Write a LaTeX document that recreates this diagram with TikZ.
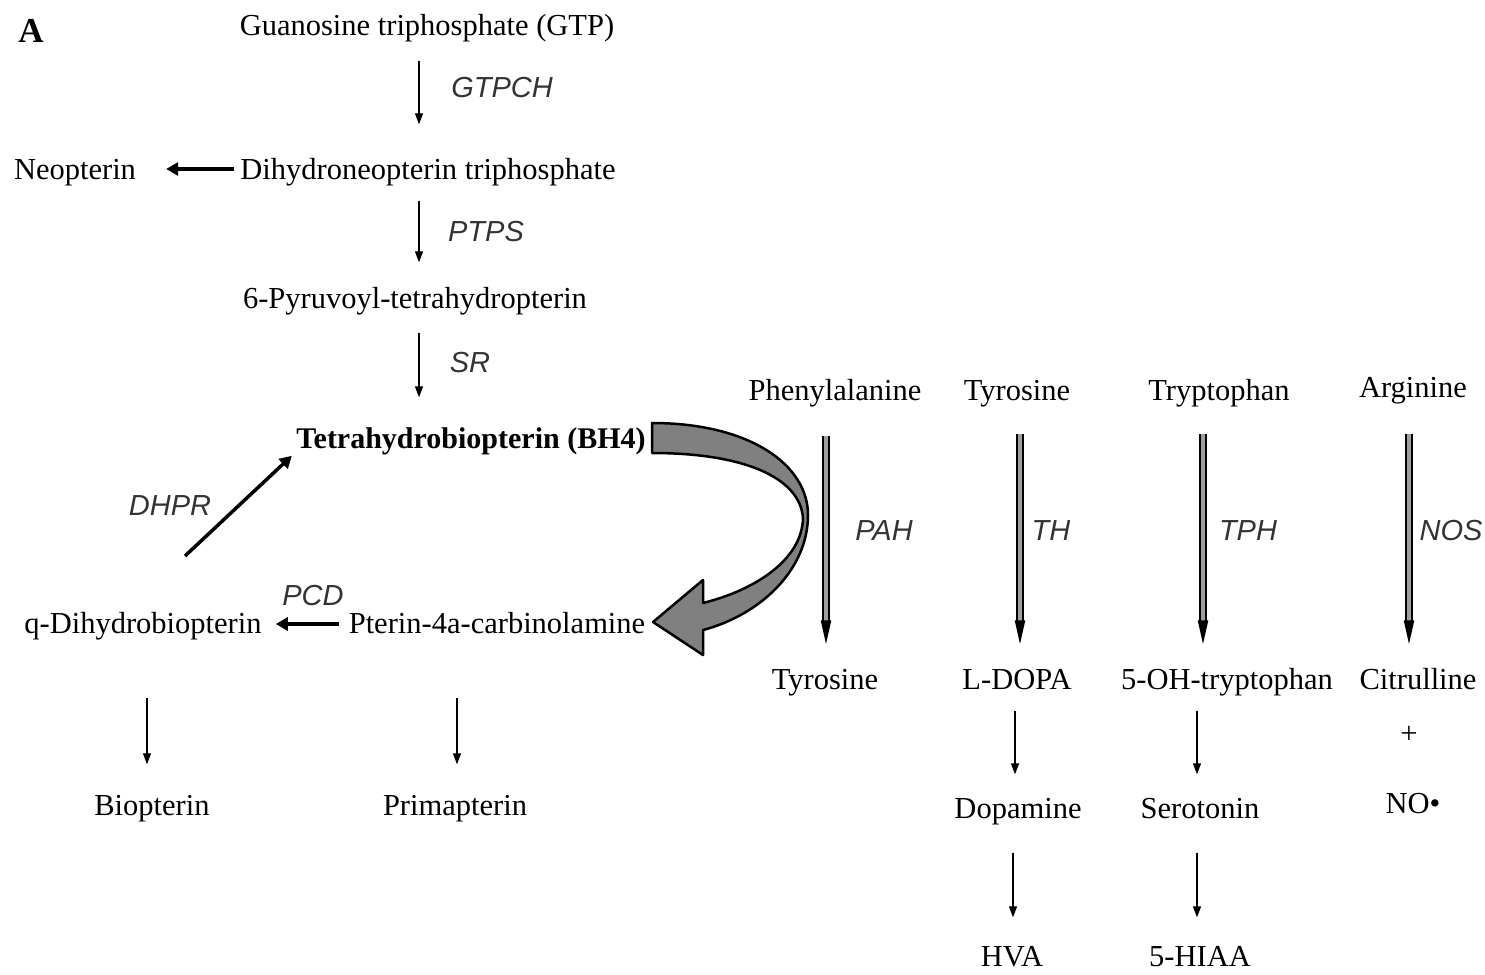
\documentclass[tikz,border=0pt]{standalone}
\usepackage{fontspec}
\setmainfont{Liberation Serif}
\setsansfont{Liberation Sans}
\usetikzlibrary{arrows.meta}

\begin{document}
\begin{tikzpicture}[x=1pt, y=-1pt,
  met/.style={inner sep=0pt, text height=24pt, text depth=3pt, font=\fontsize{30.5}{35}\selectfont},
  enz/.style={inner sep=0pt, text=black!80, font=\sffamily\itshape\fontsize{29}{34}\selectfont},
  arr/.style={line width=1.3pt, -{Triangle[length=11pt, width=8pt]}},
  tarr/.style={line width=3.5pt, -{Triangle[length=12pt, width=13pt]}},
  garr/.style={line width=2.2pt, double=gray!75, double distance=3.2pt, -{Triangle[length=24pt, width=10pt]}},
  bigarr/.style={draw=black, line width=2.5pt, fill=gray, line join=round}]
  \useasboundingbox (0,0) rectangle (1485,974);

  % Biosintesis BH4
  \node[font=\bfseries\fontsize{35}{40}\selectfont] (lblA) at (31,31) {A};
  \node[met] (gtp) at (427,25) {Guanosine triphosphate (GTP)};
  \node[met] (dhnp) at (428,169) {Dihydroneopterin triphosphate};
  \node[met] (neo) at (75,169) {Neopterin};
  \node[met] (ptp) at (415,298) {6-Pyruvoyl-tetrahydropterin};
  \node[met, font=\bfseries\fontsize{30}{35}\selectfont] (bh4) at (471,438) {Tetrahydrobiopterin (BH4)};
  \node[met] (qdhb) at (143,623) {q-Dihydrobiopterin};
  \node[met] (pca) at (497,623) {Pterin-4a-carbinolamine};
  \node[met] (biop) at (152,805) {Biopterin};
  \node[met] (prim) at (455,805) {Primapterin};

  % Enzimas
  \node[enz] (gtpch) at (502,88) {GTPCH};
  \node[enz] (ptps) at (486,232) {PTPS};
  \node[enz] (sr) at (470,363) {SR};
  \node[enz] (dhpr) at (170,506) {DHPR};
  \node[enz] (pcd) at (313,596) {PCD};

  % Flechas
  \draw[arr, shorten <=22pt, shorten >=31pt] ([xshift=-8]gtp.south) -- ([xshift=-9]dhnp.north);
  \draw[arr, shorten <=18pt, shorten >=22pt] ([xshift=-9]dhnp.south) -- ([xshift=4]ptp.north);
  \draw[arr, shorten <=21pt, shorten >=27pt] ([xshift=4]ptp.south) -- ([xshift=-52]bh4.north);
  \draw[tarr, shorten <=6pt, shorten >=30pt] (dhnp.west) -- (neo.east);
  \draw[tarr, shorten <=10pt, shorten >=14pt] ([yshift=-1]pca.west) -- ([yshift=-1]qdhb.east);
  \coordinate (dh0) at (185,556);
  \draw[tarr, shorten >=6pt] (dh0) -- (bh4.south west);
  \draw[arr, shorten <=61pt, shorten >=27pt] ([xshift=4]qdhb.south) -- ([xshift=-5]biop.north);
  \draw[arr, shorten <=61pt, shorten >=27pt] ([xshift=-40]pca.south) -- ([xshift=2]prim.north);

  % Cofactor
  \draw[bigarr] (652,423) .. controls (750,423) and (808,465) .. (808,515)
    .. controls (808,570) and (760,615) .. (703,630)
    -- (703,655) -- (653,622) -- (703,580) -- (703,603)
    .. controls (755,590) and (802,560) .. (803,518)
    .. controls (800,478) and (745,453) .. (652,453) -- cycle;

  % Aminoacidos
  \node[met] (phe) at (835,390) {Phenylalanine};
  \node[met] (tyr1) at (1017,390) {Tyrosine};
  \node[met] (trp) at (1219,390) {Tryptophan};
  \node[met] (arg) at (1413,387) {Arginine};
  \node[met] (tyr2) at (825,679) {Tyrosine};
  \node[met] (ldopa) at (1017,679) {L-DOPA};
  \node[met] (ohtrp) at (1227,679) {5-OH-tryptophan};
  \node[met] (cit) at (1418,679) {Citrulline};
  \node[met] (plus) at (1409,733) {+};
  \node[met] (no) at (1413,803) {NO•};
  \node[met] (dopa) at (1018,808) {Dopamine};
  \node[met] (sero) at (1200,808) {Serotonin};
  \node[met] (hva) at (1012,956) {HVA};
  \node[met] (hiaa) at (1200,956) {5-HIAA};

  \node[enz] (pah) at (884,531) {PAH};
  \node[enz] (th) at (1051,531) {TH};
  \node[enz] (tph) at (1248,531) {TPH};
  \node[enz] (nos) at (1451,531) {NOS};

  \draw[garr, shorten <=32pt, shorten >=21pt] ([xshift=-9]phe.south) -- ([xshift=1]tyr2.north);
  \draw[garr, shorten <=30pt, shorten >=21pt] ([xshift=3]tyr1.south) -- ([xshift=3]ldopa.north);
  \draw[garr, shorten <=30pt, shorten >=21pt] ([xshift=-16]trp.south) -- ([xshift=-24]ohtrp.north);
  \draw[garr, shorten <=33pt, shorten >=21pt] ([xshift=-4]arg.south) -- ([xshift=-9]cit.north);

  \draw[arr, shorten <=18pt, shorten >=20pt] ([xshift=-2]ldopa.south) -- ([xshift=-3]dopa.north);
  \draw[arr, shorten <=31pt, shorten >=25pt] ([xshift=-5]dopa.south) -- ([xshift=1]hva.north);
  \draw[arr, shorten <=18pt, shorten >=20pt] ([xshift=-30]ohtrp.south) -- ([xshift=-3]sero.north);
  \draw[arr, shorten <=31pt, shorten >=25pt] ([xshift=-3]sero.south) -- ([xshift=-3]hiaa.north);
\end{tikzpicture}
\end{document}
